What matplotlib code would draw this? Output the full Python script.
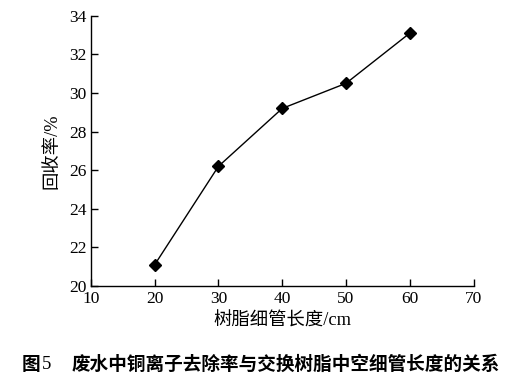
import matplotlib
matplotlib.use("Agg")
import matplotlib.pyplot as plt
from matplotlib import font_manager

# 树脂细管长度 (cm) 与 回收率 (%)
lengths = [20, 30, 40, 50, 60]
recovery = [21.1, 26.2, 29.2, 30.5, 33.1]
xticks = [10, 20, 30, 40, 50, 60, 70]
yticks = [20, 22, 24, 26, 28, 30, 32, 34]

names = sorted(set(f.name for f in font_manager.fontManager.ttflist))
serif_name = 'Liberation Serif'
for n in names:
    if 'Serif' in n and 'Liberation' in n:
        serif_name = n
        break

serif = [serif_name, 'DejaVu Serif', 'Noto Sans CJK SC']
cjk = ['Noto Sans CJK SC', 'DejaVu Sans']
plt.rcParams['font.family'] = serif

fig = plt.figure(figsize=(5.28, 3.84), dpi=100)
ax = fig.add_axes([0.172, 0.255, 0.725, 0.704])

ax.plot(lengths, recovery, color='black', lw=1.0, marker='D', markersize=6)

ax.set_xlim(10, 70)
ax.set_ylim(20, 34)
ax.set_xticks(xticks)
ax.set_yticks(yticks)
ax.tick_params(direction='in', length=5, width=1, labelsize=12.5, colors='black')
ax.tick_params(axis='y', pad=3)
for s in ['top', 'right']:
    ax.spines[s].set_visible(False)
for s in ['left', 'bottom']:
    ax.spines[s].set_linewidth(1)

ax.set_xlabel('树脂细管长度/cm', fontsize=13.2, family=serif, labelpad=4)
ax.set_ylabel('回收率/%', fontsize=13.2, family=serif, labelpad=6)

# 图题
fig.text(22 / 528, 0.05, '图', ha='left', va='center', fontsize=13.4,
         fontweight='bold', family=cjk)
fig.text(42 / 528, 0.05, '5', ha='left', va='center', fontsize=13.4, family=serif)
fig.text(72 / 528, 0.05, '废水中铜离子去除率与交换树脂中空细管长度的关系',
         ha='left', va='center', fontsize=13.4, fontweight='bold', family=cjk)

fig.savefig('out.png', dpi=100)
